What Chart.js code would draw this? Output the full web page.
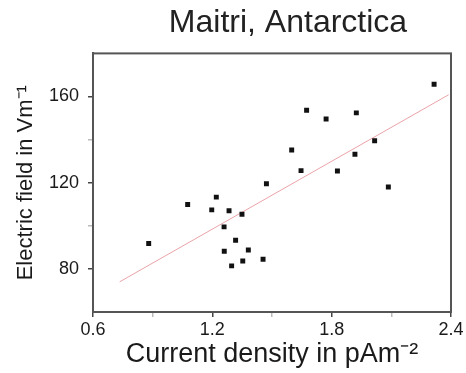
<!DOCTYPE html>
<html>
<head>
<meta charset="utf-8">
<script src="https://cdn.jsdelivr.net/npm/chart.js@4/dist/chart.umd.min.js"></script>
<style>
  html, body { margin: 0; padding: 0; background: #fff; }
  #wrap { width: 466px; height: 373px; }
</style>
</head>
<body>
<div id="wrap"><canvas id="c" width="466" height="373"></canvas></div>
<script>
// ---- data ----
const currentDensity = [0.88, 1.076, 1.197, 1.22, 1.284, 1.349, 1.259, 1.317, 1.26, 1.381, 1.353, 1.297,
                        1.455, 1.472, 1.599, 1.646, 1.674, 1.772, 1.829, 1.917, 1.924, 2.016, 2.085, 2.315];
const electricField  = [91.8, 109.9, 107.4, 113.3, 107.0, 105.4, 99.5, 93.3, 88.2, 88.8, 83.7, 81.4,
                        84.5, 119.5, 135.2, 125.6, 153.6, 149.6, 125.4, 133.2, 152.4, 139.5, 118.0, 165.7];
const fitX = [0.734, 2.388];
const fitY = [74.0, 160.8];
const xTicks = [0.6, 0.9, 1.2, 1.5, 1.8, 2.1, 2.4];
const xTickLabels = ['0.6', '', '1.2', '', '1.8', '', '2.4'];
const yTicks = [80, 100, 120, 140, 160];
const yTickLabels = ['80', '', '120', '', '160'];
const chartTitle = 'Maitri, Antarctica';
const xTitle = 'Current density in pAm\u207B\u00B2';
const yTitle = 'Electric field in Vm\u207B\u00B9';

const scatterPts = currentDensity.map((x, i) => ({ x: x, y: electricField[i] }));
const fitPts = fitX.map((x, i) => ({ x: x, y: fitY[i] }));

const FONT = "'Liberation Sans', Arial, sans-serif";

const framePlugin = {
  id: 'frame',
  afterLayout(chart) {
    // centre the title slightly right of the canvas centre, as in the reference
    if (chart.titleBlock) { chart.titleBlock.left = 110; chart.titleBlock.right = 466; }
  },
  afterDraw(chart) {
    const a = chart.chartArea, ctx = chart.ctx;
    ctx.save();
    ctx.strokeStyle = '#555';
    ctx.lineWidth = 2;
    ctx.strokeRect(a.left, a.top, a.right - a.left, a.bottom - a.top);
    ctx.restore();
  }
};

new Chart(document.getElementById('c'), {
  type: 'scatter',
  data: {
    datasets: [
      {
        type: 'line',
        data: fitPts,
        borderColor: '#eaa3a8',
        borderWidth: 1,
        pointRadius: 0,
        fill: false,
        order: 2
      },
      {
        data: scatterPts,
        pointStyle: 'rect',
        pointRadius: 3.5,
        backgroundColor: '#111',
        borderColor: '#111',
        borderWidth: 0,
        order: 1
      }
    ]
  },
  options: {
    responsive: false,
    animation: false,
    layout: { padding: { left: 0, right: 15, top: 0, bottom: 0 } },
    plugins: {
      legend: { display: false },
      tooltip: { enabled: false },
      title: {
        display: true,
        text: chartTitle,
        color: '#222',
        font: { family: FONT, size: 32, weight: 'normal', lineHeight: 1.2 },
        padding: { top: 4, bottom: 11 }
      }
    },
    scales: {
      x: {
        type: 'linear',
        min: 0.6, max: 2.4,
        afterBuildTicks: s => { s.ticks = xTicks.map(v => ({ value: v })); },
        afterFit: s => { s.height = 61; },
        ticks: {
          autoSkip: false, maxRotation: 0, padding: 2, color: '#1a1a1a',
          font: { family: FONT, size: 18 },
          callback: (v, i) => xTickLabels[i]
        },
        grid: {
          drawOnChartArea: false, drawTicks: true, tickLength: 5,
          color: c => (c.tick && xTickLabels[c.index] !== '') ? '#444' : '#bbb',
          lineWidth: 1.5
        },
        border: { display: true, color: '#555', width: 2 },
        title: {
          display: true, text: xTitle, color: '#1a1a1a',
          font: { family: FONT, size: 27, lineHeight: 1.2 },
          padding: { top: 0, bottom: 2 }
        }
      },
      y: {
        type: 'linear',
        min: 60, max: 180,
        afterBuildTicks: s => { s.ticks = yTicks.map(v => ({ value: v })); },
        afterFit: s => { s.width = 93; },
        ticks: {
          autoSkip: false, padding: 9, color: '#1a1a1a',
          font: { family: FONT, size: 18 },
          callback: (v, i) => yTickLabels[i]
        },
        grid: {
          drawOnChartArea: false, drawTicks: true, tickLength: 5,
          color: c => (c.tick && yTickLabels[c.index] !== '') ? '#444' : '#bbb',
          lineWidth: 1.5
        },
        border: { display: true, color: '#555', width: 2 },
        title: {
          display: true, text: yTitle, color: '#1a1a1a',
          font: { family: FONT, size: 22, lineHeight: 1.2 },
          padding: { top: 13, bottom: 0 }
        }
      }
    }
  },
  plugins: [framePlugin]
});
</script>
</body>
</html>
